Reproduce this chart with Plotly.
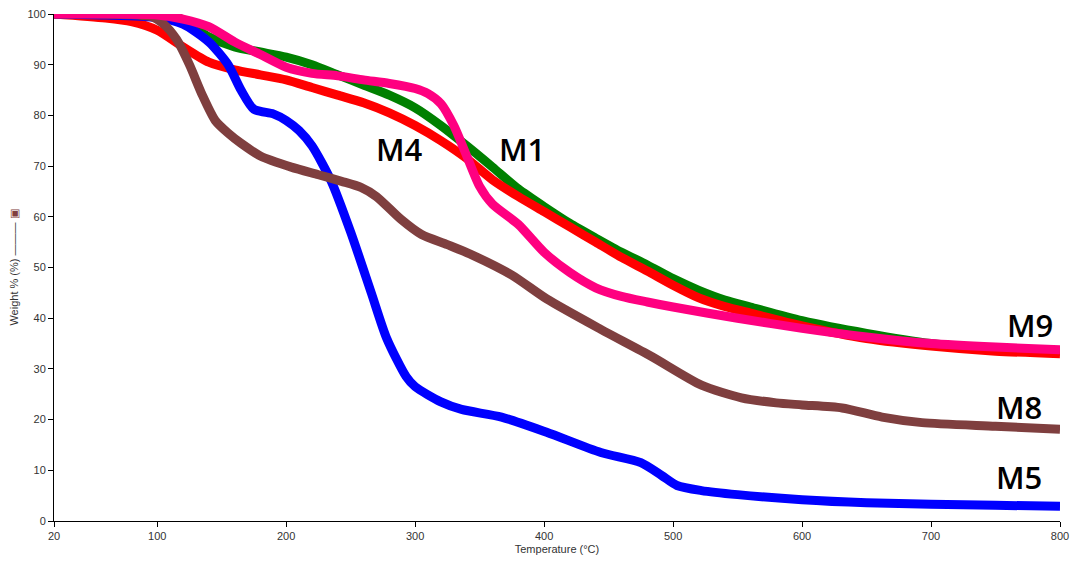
import plotly.graph_objects as go

# Temperature grid (°C) and weight % series
T_blue = [20, 60, 100, 120, 140, 155, 165, 175, 190, 200, 210, 220, 235, 250, 266, 278, 293, 300, 320, 336, 367, 402, 444, 475, 491, 503, 522, 550, 600, 650, 700, 750, 800]
W_blue = [100, 99.8, 99.3, 98, 94.5, 90, 85, 81.2, 80.3, 79, 77, 74, 67, 57, 45, 36, 28.5, 26.5, 23.5, 22, 20.5, 17.5, 13.5, 11.5, 9, 7, 6, 5.2, 4.2, 3.6, 3.3, 3.1, 2.9]

T_brown = [20, 60, 95, 105, 115, 125, 135, 145, 155, 165, 180, 204, 225, 243, 258, 270, 289, 305, 325, 344, 375, 402, 444, 483, 522, 553, 580, 600, 631, 662, 693, 750, 800]
W_brown = [100, 100, 99.5, 98, 95, 90, 84, 79, 76.5, 74.5, 72, 69.8, 68.3, 67, 65.8, 64, 59.5, 56.5, 54.5, 52.5, 48.5, 43.8, 37.8, 32.5, 26.8, 24.3, 23.3, 22.9, 22.3, 20.5, 19.4, 18.7, 18.1]

T_green = [20, 80, 110, 125, 140, 160, 180, 200, 220, 240, 260, 280, 300, 320, 340, 360, 380, 400, 420, 440, 460, 480, 500, 520, 540, 560, 600, 650, 700, 750, 800]
W_green = [100, 100, 100, 98, 95.5, 93.5, 92.5, 91.5, 90, 88, 86, 84, 81.5, 78, 74, 69.8, 65.5, 62, 58.7, 55.8, 53, 50.5, 47.8, 45.5, 43.6, 42.2, 39.5, 37, 35, 34, 33.5]

T_red = [20, 60, 80, 100, 120, 140, 160, 180, 200, 220, 240, 260, 280, 300, 320, 340, 360, 380, 400, 420, 440, 460, 480, 500, 520, 540, 560, 600, 650, 700, 750, 800]
W_red = [100, 99.2, 98.5, 96.8, 93.5, 90.5, 89, 88, 87, 85.5, 84, 82.5, 80.5, 78, 75, 71.5, 67.3, 64, 61, 58, 55, 52, 49.3, 46.5, 44, 42.3, 41, 38.5, 36, 34.5, 33.5, 33]

T_pink = [20, 60, 100, 120, 140, 160, 180, 200, 220, 240, 260, 280, 300, 310, 320, 330, 340, 350, 360, 380, 400, 420, 440, 460, 480, 500, 550, 600, 650, 700, 750, 800]
W_pink = [100, 100, 99.8, 99, 97.5, 94.5, 92, 89.5, 88.3, 87.8, 87, 86.3, 85.3, 84.3, 82.3, 78, 72, 66, 62.5, 58.5, 53, 49, 46, 44.3, 43.2, 42.2, 40, 38, 36.3, 35, 34.3, 33.8]

label_text = ["M4", "M1", "M9", "M8", "M5"]
label_x = [288, 383, 777, 768, 768]
label_y = [73.4, 73.4, 38.7, 22.4, 8.7]

x_ticks = [20, 100, 200, 300, 400, 500, 600, 700, 800]
y_ticks = [0, 10, 20, 30, 40, 50, 60, 70, 80, 90, 100]

fig = go.Figure()
series = [
    (T_green, W_green, "#008000", "M1"),
    (T_red, W_red, "#ff0000", "M9"),
    (T_blue, W_blue, "#0000ff", "M5"),
    (T_brown, W_brown, "#7f3f3f", "M8"),
    (T_pink, W_pink, "#ff0080", "M4"),
]
for xs, ys, c, n in series:
    fig.add_trace(go.Scatter(x=xs, y=ys, mode="lines", name=n,
                             line=dict(color=c, width=9, shape="spline", smoothing=0.7)))

for t, x, y in zip(label_text, label_x, label_y):
    fig.add_annotation(x=x, y=y, text=t, showarrow=False,
                       font=dict(family="Open Sans", size=31, color="black", weight=600))

axis_font = dict(family="Liberation Sans, Arial", size=11, color="#333333")
fig.update_layout(
    width=1072, height=553,
    margin=dict(l=46, r=20, t=6, b=40, autoexpand=False),
    paper_bgcolor="white", plot_bgcolor="white",
    showlegend=False,
    font=axis_font,
    xaxis=dict(range=[20, 800], tickvals=x_ticks, showgrid=False, zeroline=False,
               showline=True, linecolor="black", linewidth=1, automargin=False,
               ticks="outside", ticklen=5, tickcolor="black", ticklabeloverflow="allow",
               title=dict(text="Temperature (°C)", font=axis_font, standoff=4)),
    yaxis=dict(range=[0, 100], tickvals=y_ticks, showgrid=False, zeroline=False,
               showline=True, linecolor="black", linewidth=1, automargin=False,
               ticks="outside", ticklen=5, tickcolor="black", ticklabeloverflow="allow",
               title=dict(text="Weight % (%) <span style='color:#333333'>———</span> <span style='color:#7f3f3f'>▣</span>",
                          font=axis_font, standoff=6)),
)

fig.write_html("out.html")
